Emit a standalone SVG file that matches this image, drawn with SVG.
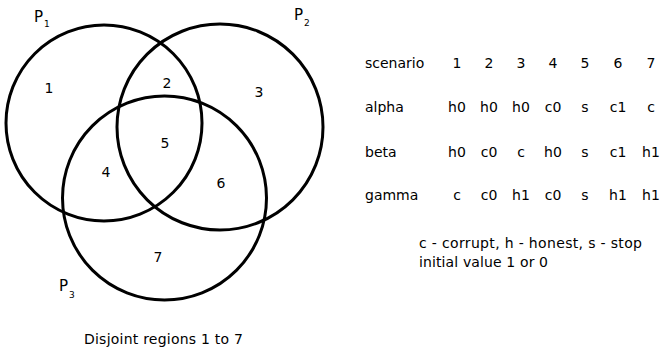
<svg xmlns="http://www.w3.org/2000/svg" width="664" height="349" viewBox="0 0 664 349">
<style>
text{font-family:"DejaVu Sans",Verdana,sans-serif;fill:#000}
.c{fill:none;stroke:#000;stroke-width:3}
.n{font-size:14px;text-anchor:middle}
.t{font-size:14px}
.tc{font-size:14px;text-anchor:middle}
.p{font-size:15px}
.s{font-size:9px}
</style>
<rect width="664" height="349" fill="#fff"/>
<g id="circles">
<g id="P1"><circle class="c" cx="104" cy="123" r="98"/><text class="p" x="34" y="22">P</text><text class="s" x="44" y="27">1</text></g>
<g id="P2"><circle class="c" cx="220" cy="127" r="103"/><text class="p" x="294" y="20">P</text><text class="s" x="304" y="26">2</text></g>
<g id="P3"><circle class="c" cx="164.5" cy="198" r="102"/><text class="p" x="59" y="291">P</text><text class="s" x="69" y="298">3</text></g>
</g>
<g id="regions">
<text class="n" x="49" y="93">1</text>
<text class="n" x="167" y="88">2</text>
<text class="n" x="259" y="97">3</text>
<text class="n" x="106" y="177">4</text>
<text class="n" x="165" y="148">5</text>
<text class="n" x="221" y="188">6</text>
<text class="n" x="158" y="262">7</text>
</g>
<g id="table">
<text class="t" x="365" y="68">scenario</text>
<text class="t" x="365" y="112">alpha</text>
<text class="t" x="365" y="157">beta</text>
<text class="t" x="365" y="200">gamma</text>
<g>
<text class="tc" x="457" y="68">1</text><text class="tc" x="489" y="68">2</text><text class="tc" x="521" y="68">3</text><text class="tc" x="553" y="68">4</text><text class="tc" x="585" y="68">5</text><text class="tc" x="618" y="68">6</text><text class="tc" x="651" y="68">7</text>
<text class="tc" x="457" y="112">h0</text><text class="tc" x="489" y="112">h0</text><text class="tc" x="521" y="112">h0</text><text class="tc" x="553" y="112">c0</text><text class="tc" x="585" y="112">s</text><text class="tc" x="618" y="112">c1</text><text class="tc" x="651" y="112">c</text>
<text class="tc" x="457" y="157">h0</text><text class="tc" x="489" y="157">c0</text><text class="tc" x="521" y="157">c</text><text class="tc" x="553" y="157">h0</text><text class="tc" x="585" y="157">s</text><text class="tc" x="618" y="157">c1</text><text class="tc" x="651" y="157">h1</text>
<text class="tc" x="457" y="200">c</text><text class="tc" x="489" y="200">c0</text><text class="tc" x="521" y="200">h1</text><text class="tc" x="553" y="200">c0</text><text class="tc" x="585" y="200">s</text><text class="tc" x="618" y="200">h1</text><text class="tc" x="651" y="200">h1</text>
</g>
<text class="t" x="419" y="248" textLength="223">c - corrupt, h - honest, s - stop</text>
<text class="t" x="419" y="267" textLength="129">initial value 1 or 0</text>
</g>
<text class="t" x="84" y="344" textLength="159">Disjoint regions 1 to 7</text>
</svg>
